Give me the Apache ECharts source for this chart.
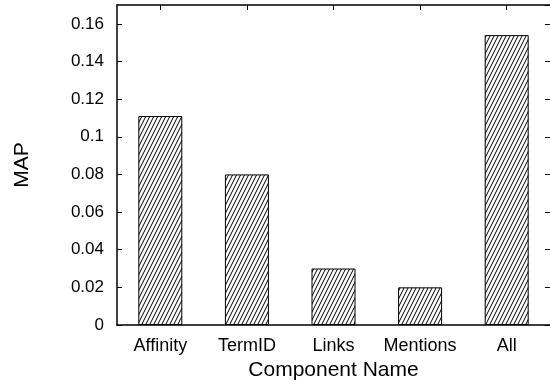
<!DOCTYPE html>
<html>
<head>
<meta charset="utf-8">
<script src="https://cdn.jsdelivr.net/npm/echarts@6/dist/echarts.min.js"></script>
<style>
  html, body { margin: 0; padding: 0; background: #fff; }
  #chart { width: 550px; height: 390px; }
</style>
</head>
<body>
<div id="chart"></div>
<script>
// Mean average precision for each component and for all combined
const components = ['Affinity', 'TermID', 'Links', 'Mentions', 'All'];
const mapValues = [0.111, 0.080, 0.030, 0.020, 0.154];

// Diagonal hatch fill for the bars
function makeHatch() {
  const c = document.createElement('canvas');
  c.width = 4; c.height = 8;
  const ctx = c.getContext('2d');
  ctx.fillStyle = '#fff';
  ctx.fillRect(0, 0, 4, 8);
  ctx.strokeStyle = '#000';
  ctx.lineWidth = 1;
  ctx.beginPath();
  for (let k = -1; k <= 1; k++) {
    ctx.moveTo(k * 4, 8);
    ctx.lineTo(k * 4 + 4, 0);
  }
  ctx.stroke();
  return c;
}

const font = '"Liberation Sans", Arial, Helvetica, sans-serif';
const lineStyle = { color: '#000', width: 1.5 };
const tickStyle = { color: '#000', width: 1 };

const chart = echarts.init(document.getElementById('chart'), null, { renderer: 'canvas' });
chart.setOption({
  animation: false,
  backgroundColor: '#fff',
  grid: { left: 117, top: 5, width: 435, height: 320 },
  xAxis: [
    {
      type: 'category',
      data: components,
      position: 'bottom',
      axisLine: { onZero: false, lineStyle },
      axisTick: { show: false },
      axisLabel: { color: '#000', fontSize: 18, fontFamily: font, margin: 12, interval: 0 },
      name: 'Component Name',
      nameLocation: 'middle',
      nameGap: 35,
      nameTextStyle: { color: '#000', fontSize: 21, fontFamily: font }
    },
    {
      type: 'category',
      data: components,
      position: 'top',
      axisLine: { onZero: false, lineStyle },
      axisTick: { show: true, inside: true, alignWithLabel: true, interval: 0, length: 5, lineStyle: tickStyle },
      axisLabel: { show: false }
    }
  ],
  yAxis: [
    {
      type: 'value',
      min: 0,
      max: 0.17,
      interval: 0.02,
      position: 'left',
      splitLine: { show: false },
      axisLine: { show: true, onZero: false, lineStyle },
      axisTick: { show: true, inside: true, length: 5, lineStyle: tickStyle },
      axisLabel: { color: '#000', fontSize: 17, fontFamily: font, margin: 13, showMaxLabel: false },
      name: 'MAP',
      nameLocation: 'middle',
      nameGap: 84,
      nameTextStyle: { color: '#000', fontSize: 21, fontFamily: font }
    },
    {
      type: 'value',
      min: 0,
      max: 0.17,
      interval: 0.02,
      position: 'right',
      splitLine: { show: false },
      axisLine: { show: false },
      axisTick: { show: true, inside: true, length: 5, lineStyle: tickStyle },
      axisLabel: { show: false }
    }
  ],
  series: [{
    type: 'bar',
    data: mapValues,
    barWidth: 44,
    itemStyle: {
      color: { image: makeHatch(), repeat: 'repeat' },
      borderColor: '#000',
      borderWidth: 1
    }
  }]
});
</script>
</body>
</html>
